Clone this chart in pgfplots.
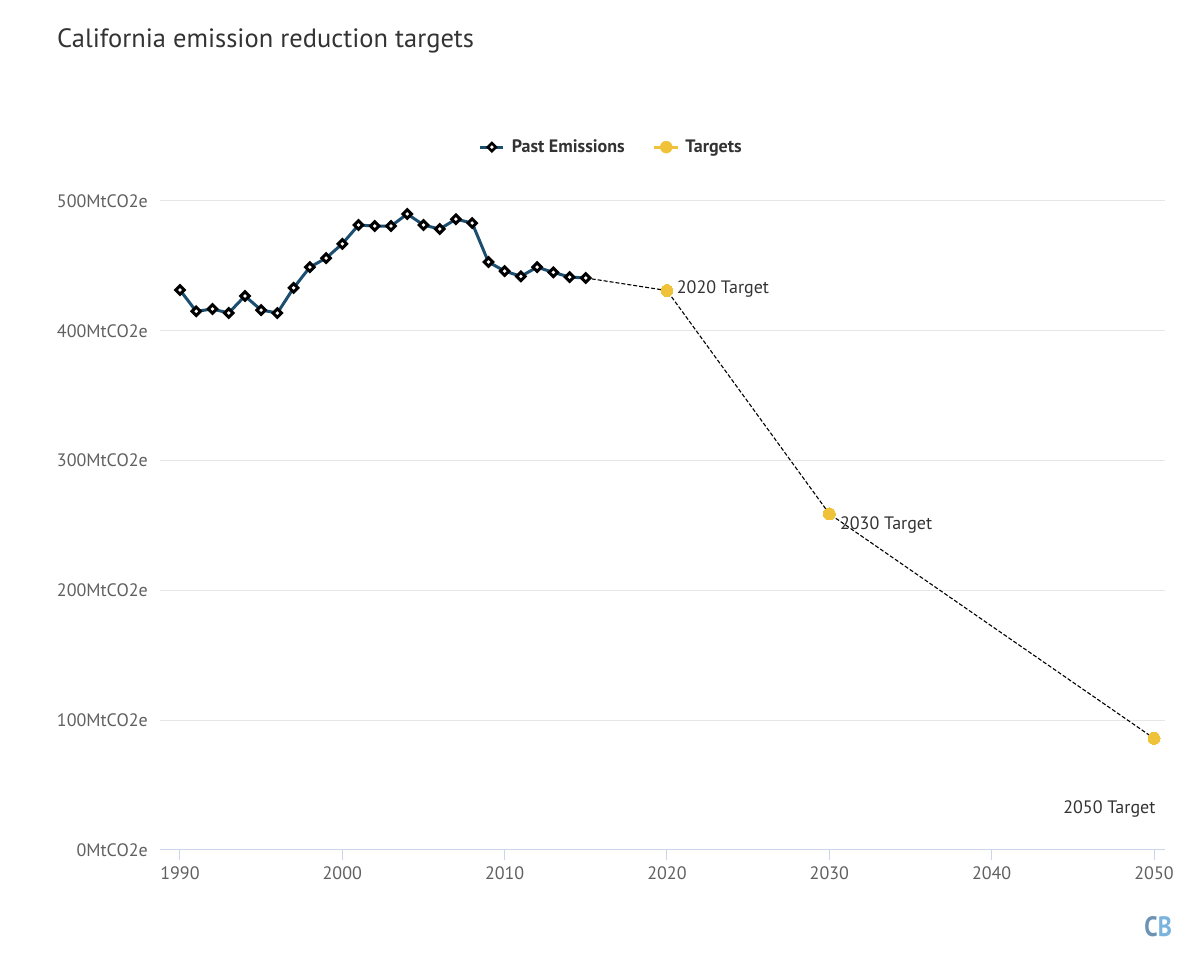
\documentclass[border=0pt]{standalone}
\usepackage{pgfplots}
\pgfplotsset{compat=1.18}
\usepackage{fontspec}
\setmainfont{PT Sans}
\definecolor{cbline}{RGB}{28,78,112}
\definecolor{cbyellow}{RGB}{240,194,58}
\definecolor{gridc}{RGB}{230,230,230}
\definecolor{axisc}{RGB}{204,214,235}
\definecolor{tickc}{RGB}{96,96,96}
\definecolor{titlec}{RGB}{51,51,51}
\definecolor{cbC}{RGB}{108,146,180}
\definecolor{cbB}{RGB}{122,180,222}
\begin{document}
\begin{tikzpicture}[x=1pt,y=1pt]
\useasboundingbox (0,0) rectangle (1200,963);
\node[anchor=base west, inner sep=0, text=titlec, font=\fontsize{26.5}{30}\selectfont] at (57,915) {California emission reduction targets};
\begin{axis}[
  at={(160pt,113pt)}, anchor=south west,
  scale only axis, width=1005pt, height=649pt,
  xmin=1988.77, xmax=2050.68, ymin=0, ymax=500,
  axis lines*=left,
  x axis line style={draw=axisc, line width=1pt, -},
  y axis line style={draw=none},
  xtick={1990,2000,2010,2020,2030,2040,2050},
  xticklabels={1990,2000,2010,2020,2030,2040,2050},
  ytick={0,100,200,300,400,500},
  yticklabels={0MtCO2e,100MtCO2e,200MtCO2e,300MtCO2e,400MtCO2e,500MtCO2e},
  tick align=outside,
  major tick length=10pt,
  xtick style={draw=axisc, line width=1pt},
  ytick style={draw=none},
  ymajorgrids, grid style={draw=gridc, line width=1pt},
  ticklabel style={font=\fontsize{18}{21}\selectfont, text=tickc, inner sep=0pt},
  xticklabel style={yshift=-6pt},
  yticklabel style={xshift=-2pt},
  clip=false,
  legend style={at={(0.449,1.083)}, anchor=center, draw=none, fill=none,
    legend columns=2, font=\fontsize{18}{20}\selectfont\bfseries, text=titlec,
    /tikz/every even column/.append style={column sep=26pt}},
]
\addplot[black, dashed, line width=1.1pt, dash pattern=on 4pt off 2pt, forget plot] coordinates {(2015,440.7)(2020,431)(2030,259)(2050,86)};
\addplot[cbline, line width=3pt, mark=square*, mark size=3pt,
  mark options={rotate=45, draw=black, fill=white, line width=3pt},
  legend image code/.code={\draw[line width=3pt, cbline] (0pt,0pt) -- (23pt,0pt);
    \filldraw[draw=black, fill=white, line width=2.6pt] (11.5pt,4pt) -- (15.5pt,0pt) -- (11.5pt,-4pt) -- (7.5pt,0pt) -- cycle;
    \path (28pt,0pt);}]
coordinates {
(1990,431.4)(1991,415)(1992,416.8)(1993,413.7)(1994,426.8)(1995,416)(1996,413.7)(1997,433)(1998,449)(1999,456)
(2000,467)(2001,481.5)(2002,480.7)(2003,480.7)(2004,490)(2005,481.5)(2006,478.4)(2007,486)(2008,483)(2009,453)
(2010,446)(2011,442)(2012,449)(2013,445)(2014,441.4)(2015,440.7)};
\addlegendentry{Past Emissions}
\addplot[cbyellow, only marks, mark=*, mark size=6pt, mark options={draw=cbyellow, fill=cbyellow, line width=0pt},
  legend image code/.code={\draw[line width=3pt, cbyellow] (0pt,0pt) -- (24pt,0pt);
    \fill[cbyellow] (12pt,0pt) circle (6pt);
    \path (29pt,0pt);}]
coordinates {(2020,431)(2030,259)(2050,86)};
\addlegendentry{Targets}
\node[anchor=west, inner sep=0, text=titlec, font=\fontsize{18}{21}\selectfont] at (axis cs:2020.6,432.5) {2020 Target};
\node[anchor=west, inner sep=0, text=titlec, font=\fontsize{18}{21}\selectfont] at (axis cs:2030.65,250) {2030 Target};
\node[anchor=east, inner sep=0, text=titlec, font=\fontsize{18}{21}\selectfont] at (axis cs:2050.1,31.6) {2050 Target};
\end{axis}
\node[anchor=base east, inner sep=0, font=\fontsize{28}{30}\selectfont\bfseries, xscale=0.85] at (1172,26) {\textcolor{cbC}{C}\textcolor{cbB}{B}};
\end{tikzpicture}
\end{document}
